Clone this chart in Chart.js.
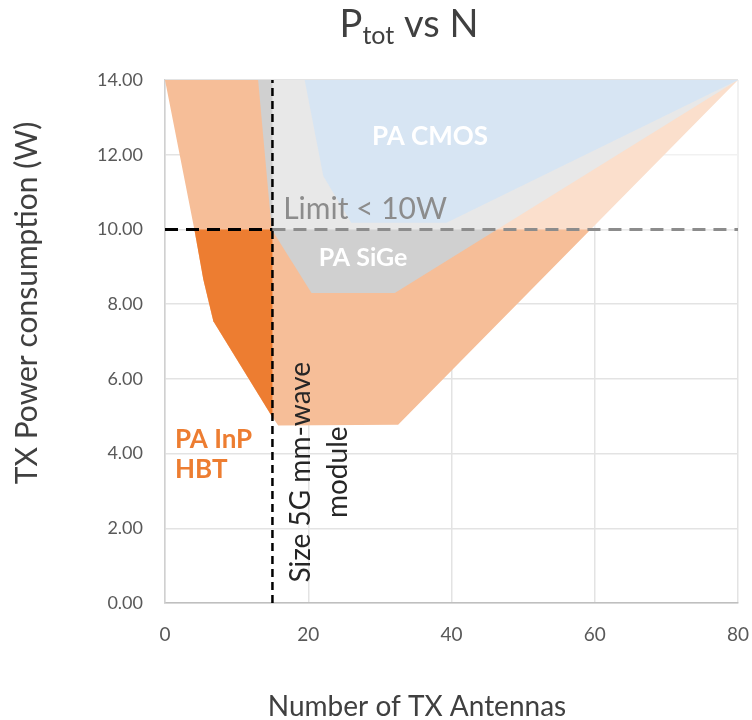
<!DOCTYPE html>
<html>
<head>
<meta charset="utf-8">
<script src="https://cdn.jsdelivr.net/npm/chart.js@4.4.1/dist/chart.umd.min.js"></script>
<style>
  html, body { margin: 0; padding: 0; background: #ffffff; }
  #containerGraph { width: 752px; height: 720px; }
</style>
</head>
<body>
<div id="containerGraph"><canvas id="graphiquePtot" width="752" height="720"></canvas></div>
<script>
// Zones (x = nombre d'antennes, y = puissance en W)
const inpX = [0, 4.1, 5.35, 6.75, 14.65, 15.8, 32.55, 80];
const inpY = [14, 10, 8.66, 7.54, 5.08, 4.75, 4.77, 14];

// partie InP sous la limite et sous la taille du module
const inpCoeurX = [4.1, 15, 15, 14.65, 6.75, 5.35];
const inpCoeurY = [10, 10, 4.98, 5.08, 7.54, 8.66];

const sigeX = [13, 14.9, 20.46, 32.08, 80];
const sigeY = [14, 10, 8.3, 8.3, 14];

const cmosX = [19.5, 22.1, 26, 39.3, 80];
const cmosY = [14, 11.43, 10.18, 10.18, 14];

const limiteW = 10;      // limite de puissance
const tailleModule = 15; // taille du module 5G
const xMax = 80;
const yMax = 14;

const xTicks = [0, 20, 40, 60, 80];
const yTicks = [0, 2, 4, 6, 8, 10, 12, 14];

const police = 'Lato, "Open Sans", sans-serif';

function zone(label, xs, ys, couleur, ordre) {
    return {
        label: label,
        data: xs.map((x, i) => ({ x: x, y: ys[i] })),
        showLine: true,
        fill: 'shape',
        backgroundColor: couleur,
        borderColor: 'rgba(0,0,0,0)',
        borderWidth: 0,
        borderDash: [2, 2],
        pointRadius: 0,
        pointHoverRadius: 0,
        order: ordre
    };
}

function ligne(label, xs, ys, couleur, epaisseur, tirets, ordre) {
    return {
        label: label,
        data: xs.map((x, i) => ({ x: x, y: ys[i] })),
        showLine: true,
        fill: false,
        borderColor: couleur,
        borderWidth: epaisseur,
        borderDash: tirets,
        borderCapStyle: 'butt',
        pointRadius: 0,
        pointHoverRadius: 0,
        clip: false,
        order: ordre
    };
}

const etiquettes = [
    { texte: 'PA CMOS', x: 37, y: 12.25, couleur: '#FFFFFF', gras: true, taille: 26, align: 'center' },
    { texte: 'PA SiGe', x: 27.65, y: 9.02, couleur: '#FFFFFF', gras: true, taille: 25, align: 'center' },
    { texte: 'Limit < 10W', x: 16.5, y: 10.27, couleur: '#8C8C8C', gras: false, taille: 30, align: 'left' },
    { texte: 'PA InP', x: 1.4, y: 4.15, couleur: '#ED7D31', gras: true, taille: 26, align: 'left' },
    { texte: 'HBT', x: 1.4, y: 3.35, couleur: '#ED7D31', gras: true, taille: 26, align: 'left' }
];

const textesPlugin = {
    id: 'textes',
    afterDatasetsDraw(chart) {
        const ctx = chart.ctx;
        const sx = chart.scales.x;
        const sy = chart.scales.y;
        ctx.save();
        etiquettes.forEach((e) => {
            ctx.font = (e.gras ? 'bold ' : '') + e.taille + 'px ' + police;
            ctx.fillStyle = e.couleur;
            ctx.textAlign = e.align;
            ctx.textBaseline = 'alphabetic';
            ctx.fillText(e.texte, sx.getPixelForValue(e.x), sy.getPixelForValue(e.y));
        });

        // texte vertical du module
        ctx.translate(sx.getPixelForValue(20.2), sy.getPixelForValue(3.5));
        ctx.rotate(-Math.PI / 2);
        ctx.font = '28px ' + police;
        ctx.fillStyle = '#262626';
        ctx.textAlign = 'center';
        ctx.fillText('Size 5G mm-wave', 0, 0);
        ctx.fillText('module', 0, 37);
        ctx.restore();
    },
    afterDraw(chart) {
        const ctx = chart.ctx;
        ctx.save();
        ctx.fillStyle = '#404040';
        ctx.textBaseline = 'alphabetic';

        // titre P_tot vs N
        const grand = '38px ' + police;
        const petit = '25px ' + police;
        ctx.font = grand;
        const wP = ctx.measureText('P').width;
        const wFin = ctx.measureText(' vs N').width;
        ctx.font = petit;
        const wTot = ctx.measureText('tot').width;
        let x = 409 - (wP + wTot + wFin) / 2;
        ctx.textAlign = 'left';
        ctx.font = grand;
        ctx.fillText('P', x, 37);
        x += wP;
        ctx.font = petit;
        ctx.fillText('tot', x, 44);
        x += wTot;
        ctx.font = grand;
        ctx.fillText(' vs N', x, 37);

        // titres des axes
        ctx.font = '28px ' + police;
        ctx.textAlign = 'center';
        ctx.fillText('Number of TX Antennas', 417, 716);
        ctx.font = '30px ' + police;
        ctx.translate(37, 303);
        ctx.rotate(-Math.PI / 2);
        ctx.fillText('TX Power consumption (W)', 0, 0);
        ctx.restore();
    }
};

const voileX = [tailleModule, xMax, xMax, tailleModule];
const voileY = [limiteW, limiteW, yMax, yMax];

new Chart(document.getElementById('graphiquePtot'), {
    type: 'scatter',
    data: {
        datasets: [
            ligne('Size 5G module', [tailleModule, tailleModule], [0, yMax], '#000000', 2.5, [8, 5], 1),
            ligne('Limit', [0, tailleModule], [limiteW, limiteW], '#000000', 3, [13, 8], 1),
            ligne('Limit suite', [tailleModule, xMax], [limiteW, limiteW], '#8C8C8C', 3, [13, 8], 2),
            zone('PA InP HBT coeur', inpCoeurX, inpCoeurY, '#ED7D31', 3),
            zone('PA CMOS', cmosX, cmosY, '#D7E5F3', 4),
            zone('voile', voileX, voileY, 'rgba(255,255,255,0.5)', 5),
            zone('PA SiGe', sigeX, sigeY, '#D0D0D0', 6),
            zone('PA InP HBT', inpX, inpY, '#F6BE98', 7)
        ]
    },
    options: {
        responsive: false,
        devicePixelRatio: 1,
        animation: false,
        layout: { padding: { top: 80, right: 14, left: 0, bottom: 0 } },
        plugins: {
            legend: { display: false },
            tooltip: { enabled: false },
            title: { display: false }
        },
        scales: {
            x: {
                type: 'linear',
                min: 0,
                max: xMax,
                afterBuildTicks: (s) => { s.ticks = xTicks.map((v) => ({ value: v })); },
                afterFit: (s) => { s.height = 117; s.paddingLeft = 0; s.paddingRight = 0; },
                ticks: { color: '#595959', font: { family: police, size: 19 }, padding: 20, maxRotation: 0 },
                grid: { color: '#E3E3E3', lineWidth: 1.5, drawTicks: false },
                border: { color: '#BFBFBF', width: 1.5 }
            },
            y: {
                min: 0,
                max: yMax,
                afterBuildTicks: (s) => { s.ticks = yTicks.map((v) => ({ value: v })); },
                afterFit: (s) => { s.width = 165; s.paddingTop = 0; s.paddingBottom = 0; },
                ticks: {
                    color: '#595959',
                    font: { family: police, size: 18 },
                    padding: 22,
                    callback: (v) => Number(v).toFixed(2)
                },
                grid: { color: '#E3E3E3', lineWidth: 1.5, drawTicks: false },
                border: { color: '#D0D0D0', width: 1.5 }
            }
        }
    },
    plugins: [textesPlugin]
});
</script>
</body>
</html>
